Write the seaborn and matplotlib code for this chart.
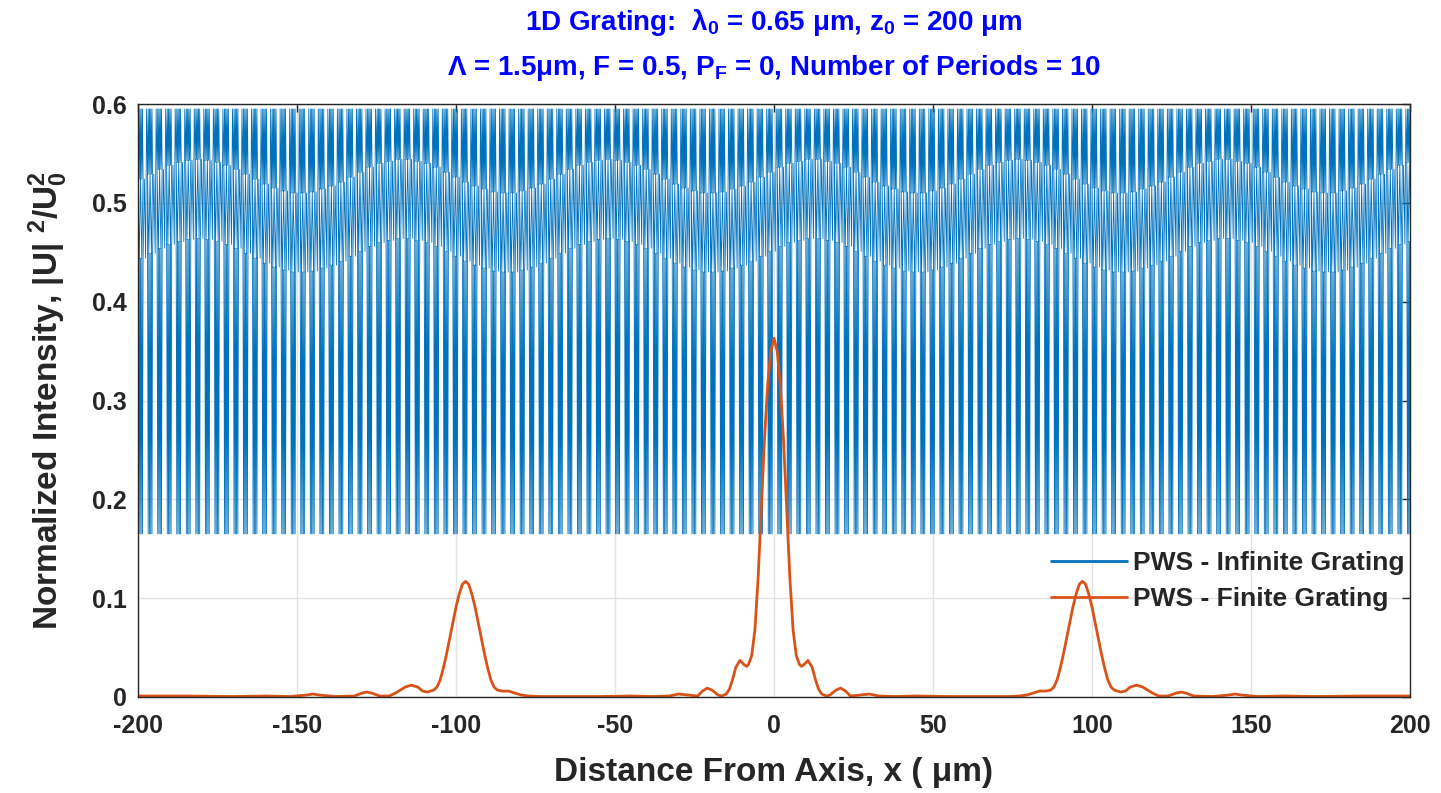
import numpy as np
import pandas as pd
import matplotlib
matplotlib.use("Agg")
import matplotlib.pyplot as plt
import seaborn as sns

# ---------------- data ----------------
# Infinite grating (dense stripes): one stripe every 3 um, swinging between
# bottom and top, with a pale intermediate band whose centre drifts slowly.
blue_x_start = -200.0
blue_period = 3.0
blue_top = 0.595
blue_bottom = 0.165
blue_band_halfwidth = 0.04
blue_band_mid = [
    0.484, 0.489, 0.494, 0.498, 0.501, 0.503,
    0.504, 0.503, 0.501, 0.498, 0.494, 0.489, 0.484, 0.479, 0.475, 0.472, 0.470,
    0.470, 0.471, 0.474, 0.477, 0.481, 0.486, 0.491, 0.496, 0.500, 0.502, 0.504,
    0.504, 0.502, 0.500, 0.496, 0.491, 0.486, 0.481, 0.477, 0.474, 0.471, 0.470,
    0.470, 0.472, 0.475, 0.479, 0.484, 0.489, 0.494, 0.498, 0.501, 0.503,
    0.504, 0.503, 0.501, 0.498, 0.494, 0.489, 0.484, 0.479, 0.475, 0.472, 0.470,
    0.470, 0.471, 0.474, 0.477, 0.481, 0.486, 0.491, 0.496, 0.500, 0.502, 0.504,
    0.504, 0.502, 0.500, 0.496, 0.491, 0.486, 0.481, 0.477, 0.474, 0.471, 0.470,
    0.470, 0.472, 0.475, 0.479, 0.484, 0.489, 0.494, 0.498, 0.501, 0.503,
    0.504, 0.503, 0.501, 0.498, 0.494, 0.489, 0.484, 0.479, 0.475, 0.472, 0.470,
    0.470, 0.471, 0.474, 0.477, 0.481, 0.486, 0.491, 0.496, 0.500, 0.502, 0.504,
    0.504, 0.502, 0.500, 0.496, 0.491, 0.486, 0.481, 0.477, 0.474, 0.471, 0.470,
    0.470, 0.472, 0.475, 0.479, 0.484, 0.489, 0.494, 0.498, 0.501,
]

# Finite grating
orange_x_neg = [-200, -185, -170, -160, -152, -147, -145, -143, -138, -132,
                -129.5, -128, -126.5, -124, -121, -119, -116, -114, -112, -110.5,
                -109, -108, -107, -106, -105, -104, -103, -102, -101, -100,
                -99, -98, -97, -96, -95, -94, -93, -92, -91, -90,
                -89, -88, -87, -85.5, -83.5, -81.5, -79.5, -77, -74, -65,
                -55, -45, -38, -33, -30, -27, -24, -22.5, -21, -19.5,
                -17.6, -16.5, -15, -14, -13, -12, -10.7, -9.5, -8.6, -8,
                -7, -6, -5, -4, -3, -2, -1, 0]
orange_y_neg = [0.001, 0.001, 0.0005, 0.001, 0.0005, 0.002, 0.003, 0.002, 0.0005, 0.001,
                0.004, 0.005, 0.004, 0.001, 0.001, 0.004, 0.010, 0.012, 0.010, 0.006,
                0.005, 0.006, 0.007, 0.010, 0.017, 0.029, 0.043, 0.059, 0.075, 0.091,
                0.104, 0.114, 0.117, 0.114, 0.104, 0.091, 0.075, 0.059, 0.043, 0.029,
                0.017, 0.010, 0.007, 0.006, 0.006, 0.004, 0.002, 0.001, 0.0005, 0.0005,
                0.0005, 0.001, 0.0005, 0.001, 0.003, 0.002, 0.001, 0.006, 0.009, 0.007,
                0.002, 0.001, 0.003, 0.008, 0.018, 0.030, 0.037, 0.033, 0.031, 0.033,
                0.042, 0.068, 0.120, 0.190, 0.260, 0.315, 0.350, 0.363]
orange_x_pos = [1, 2, 3, 4, 5, 6, 7, 8, 8.6, 9.5,
                10.7, 12, 13, 14, 15, 16.5, 17.6, 19.5, 21, 22.5,
                24, 27, 30, 33, 38, 45, 55, 65, 74, 77,
                79.5, 81.5, 83.5, 85.5, 87, 88, 89, 90, 91, 92,
                93, 94, 95, 96, 97, 98, 99, 100, 101, 102,
                103, 104, 105, 106, 107, 108, 109, 110.5, 112, 114,
                116, 119, 121, 124, 126.5, 128, 129.5, 132, 138, 143,
                145, 147, 152, 160, 170, 185, 200]
orange_y_pos = [0.350, 0.315, 0.260, 0.190, 0.120, 0.068, 0.042, 0.033, 0.031, 0.033,
                0.037, 0.030, 0.018, 0.008, 0.003, 0.001, 0.002, 0.007, 0.009, 0.006,
                0.001, 0.002, 0.003, 0.001, 0.0005, 0.001, 0.0005, 0.0005, 0.0005, 0.001,
                0.002, 0.004, 0.006, 0.006, 0.007, 0.010, 0.017, 0.029, 0.043, 0.059,
                0.075, 0.091, 0.104, 0.114, 0.117, 0.114, 0.104, 0.091, 0.075, 0.059,
                0.043, 0.029, 0.017, 0.010, 0.007, 0.006, 0.005, 0.006, 0.010, 0.012,
                0.010, 0.004, 0.001, 0.001, 0.004, 0.005, 0.004, 0.001, 0.0005, 0.002,
                0.003, 0.002, 0.0005, 0.001, 0.0005, 0.001, 0.001]

x_ticks = [-200, -150, -100, -50, 0, 50, 100, 150, 200]
y_ticks = [0, 0.1, 0.2, 0.3, 0.4, 0.5, 0.6]
series_names = ["PWS - Infinite Grating", "PWS - Finite Grating"]
title_lines = [
    r"1D Grating:  λ$_{\mathbf{0}}$ = 0.65 μm, z$_{\mathbf{0}}$ = 200 μm",
    r"Λ = 1.5μm, F = 0.5, P$_{\mathbf{F}}$ = 0, Number of Periods = 10",
]
x_label = "Distance From Axis, x ( μm)"
y_label = r"Normalized Intensity, |U| $^{\mathbf{2}}$/U$_{\mathbf{0}}^{\mathbf{2}}$"

# ---------------- build long-form tables ----------------
bx, by = [], []
for k, mid in enumerate(blue_band_mid):
    x0 = blue_x_start + k * blue_period
    hi = mid + blue_band_halfwidth
    lo = mid - blue_band_halfwidth
    # dense upper part of the stripe (top <-> band top)
    for j in range(9):
        bx.append(x0 + 0.2 * j)
        by.append(hi if j % 2 == 0 else blue_top)
    # thinner crossing of the pale band
    for j in range(1, 5):
        bx.append(x0 + 1.6 - 0.4 * j)
        by.append(lo if j % 2 == 1 else hi)
    # dense lower part of the stripe (band bottom <-> bottom)
    for j in range(9):
        bx.append(x0 + 0.2 * j)
        by.append(lo if j % 2 == 0 else blue_bottom)
    # faint lines through the gap
    bx += [x0 + 2.0, x0 + 2.4, x0 + 2.7]
    by += [hi, lo, blue_top]

df_blue = pd.DataFrame({"x": bx, "y": by, "series": series_names[0]})
df_orange = pd.DataFrame({"x": orange_x_neg + orange_x_pos,
                          "y": orange_y_neg + orange_y_pos,
                          "series": series_names[1]})

# ---------------- style ----------------
sns.set_style("white")
plt.rcParams["font.family"] = ["Liberation Sans", "DejaVu Sans"]
plt.rcParams["font.weight"] = "bold"
plt.rcParams["mathtext.fontset"] = "custom"
plt.rcParams["mathtext.rm"] = "Liberation Sans:bold"
plt.rcParams["mathtext.bf"] = "Liberation Sans:bold"
plt.rcParams["mathtext.it"] = "Liberation Sans:bold:italic"
plt.rcParams["axes.unicode_minus"] = False

BLUE = "#0072BD"
ORANGE = "#D95319"
DARK = "#262626"

fig = plt.figure(figsize=(14.41, 7.93), dpi=100)
ax = fig.add_axes([138 / 1441, 1 - 697 / 793, (1410 - 138) / 1441, (697 - 104) / 793])

sns.lineplot(data=df_blue, x="x", y="y", color=BLUE, linewidth=0.6,
             estimator=None, sort=False, label=series_names[0], ax=ax)
sns.lineplot(data=df_orange, x="x", y="y", color=ORANGE, linewidth=2.0,
             estimator=None, sort=False, label=series_names[1], ax=ax)

ax.set_xlim(-200, 200)
ax.set_ylim(0, 0.6)
ax.set_xticks(x_ticks)
ax.set_yticks(y_ticks)
ax.set_xticklabels([str(v) for v in x_ticks])
ax.set_yticklabels(["0" if v == 0 else f"{v:.1f}" for v in y_ticks])
ax.grid(True, color="#e3e3e3", linewidth=1.0)
ax.set_axisbelow(True)
ax.tick_params(direction="in", length=6, width=1, top=True, right=True,
               colors=DARK, labelsize=18)
ax.tick_params(axis="x", pad=12)
ax.tick_params(axis="y", pad=8)
for lab in ax.get_xticklabels() + ax.get_yticklabels():
    lab.set_fontweight("bold")
for s in ax.spines.values():
    s.set_visible(True)
    s.set_color(DARK)
    s.set_linewidth(1.0)

ax.set_xlabel(x_label, fontsize=24, fontweight="bold", color=DARK, labelpad=14)
ax.set_ylabel(y_label, fontsize=24, fontweight="bold", color=DARK, labelpad=16)

leg = ax.legend(loc="center left", bbox_to_anchor=(0.718, 0.195), frameon=False,
                fontsize=19, handlelength=2.85, handletextpad=0.25,
                labelspacing=0.45, borderpad=0, borderaxespad=0)
for t in leg.get_texts():
    t.set_color(DARK)
    t.set_fontweight("bold")
for h in leg.get_lines():
    h.set_linewidth(2.0)

cx = (138 + 1410) / 2 / 1441
fig.text(cx, 1 - 22 / 793, title_lines[0], ha="center", va="center",
         fontsize=20, fontweight="bold", color="#0000FF")
fig.text(cx, 1 - 68 / 793, title_lines[1], ha="center", va="center",
         fontsize=20, fontweight="bold", color="#0000FF")

fig.savefig("out.png", dpi=100, facecolor="white")
